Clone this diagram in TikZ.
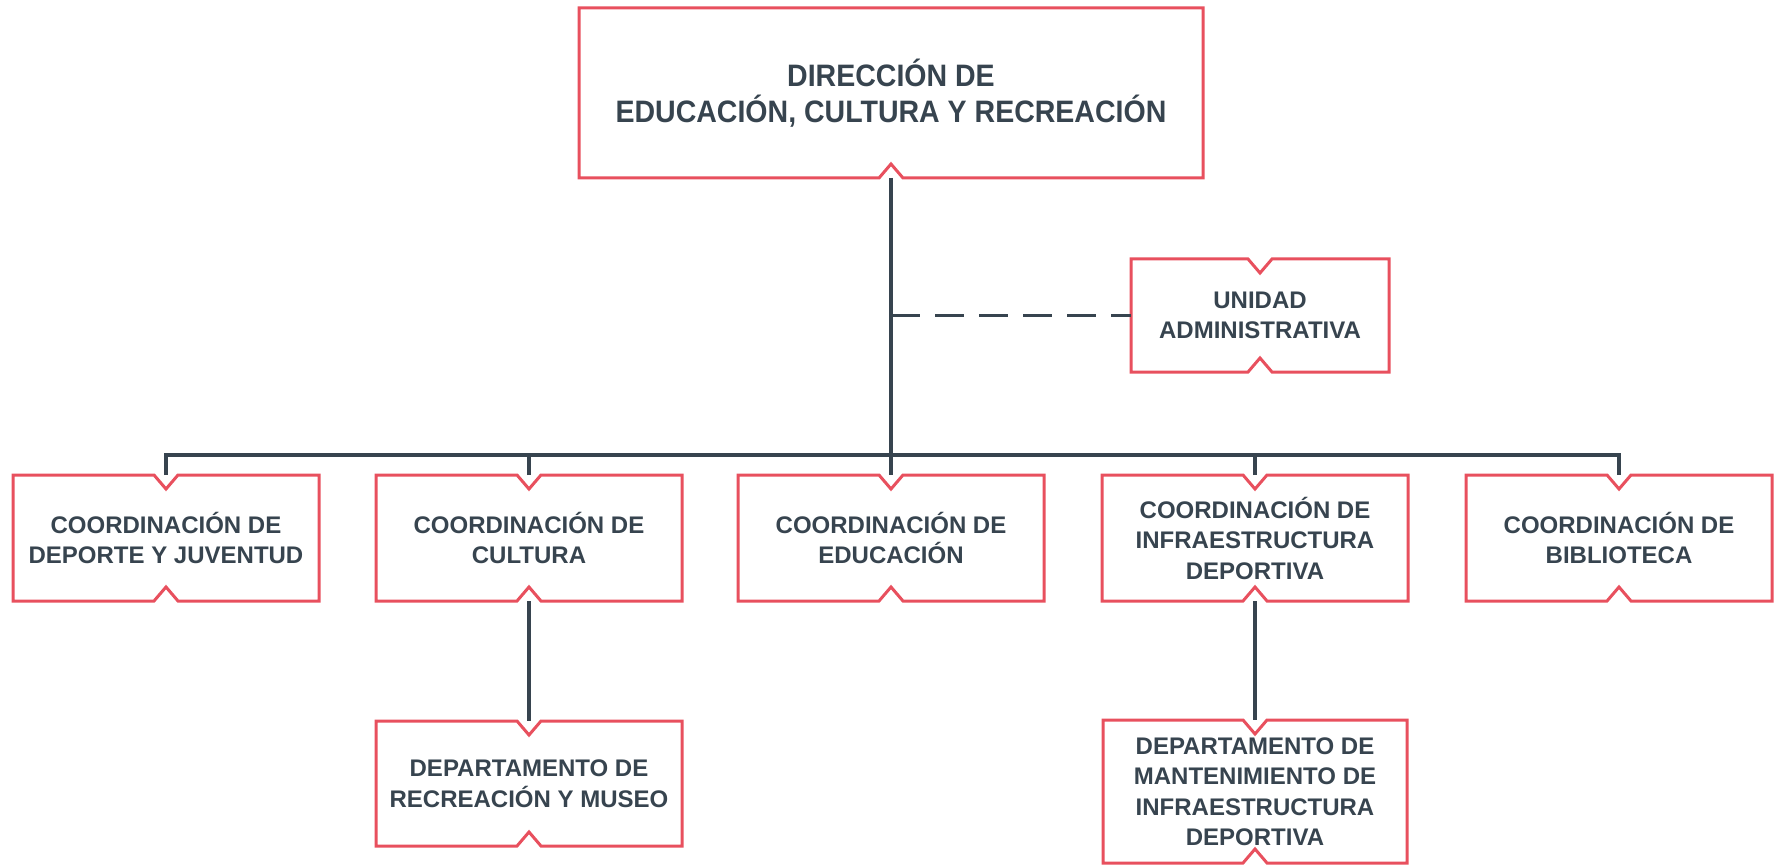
\documentclass[tikz,border=0pt]{standalone}
\usepackage{fontspec}
\setmainfont{Liberation Sans}
\newfontfamily\titlefont{Liberation Sans}[FakeStretch=0.92]
\usepackage{tikz}
\usetikzlibrary{positioning}
\definecolor{boxred}{HTML}{E8505E}
\definecolor{slate}{HTML}{37444F}
\newcommand{\notchbox}[1]{%
  \draw[boxline] (#1.north west) -- ([xshift=-12pt]#1.north) -- ([yshift=-14pt]#1.north)
    -- ([xshift=12pt]#1.north) -- (#1.north east) -- (#1.south east)
    -- ([xshift=12pt]#1.south) -- ([yshift=14pt]#1.south) -- ([xshift=-12pt]#1.south)
    -- (#1.south west) -- cycle;}
\newcommand{\flatbox}[1]{%
  \draw[boxline] (#1.north west) -- (#1.north east) -- (#1.south east)
    -- ([xshift=12pt]#1.south) -- ([yshift=14pt]#1.south) -- ([xshift=-12pt]#1.south)
    -- (#1.south west) -- cycle;}

\begin{document}
\begin{tikzpicture}[x=1pt,y=1pt]
  \tikzset{every node/.style={inner sep=0pt,outer sep=0pt,align=center,text=slate},
    orgbox/.style={minimum width=306pt,minimum height=126pt,
      font=\bfseries\fontsize{24}{30.5}\selectfont},
    boxline/.style={draw=boxred,line width=3pt,line join=miter},
    link/.style={draw=slate,line width=3.5pt},
    dashlink/.style={link,dash pattern=on 29pt off 15pt}}
  \useasboundingbox (0,0) rectangle (1774,-866);
  \node[orgbox,minimum width=624pt,minimum height=170pt,
    font=\titlefont\bfseries\fontsize{31}{36}\selectfont] (dir) at (891,-93)
    {DIRECCIÓN DE\\EDUCACIÓN, CULTURA Y RECREACIÓN};
  \node[orgbox,minimum width=258pt,minimum height=113pt] (uadm) at (1260,-315.5)
    {UNIDAD\\ADMINISTRATIVA};
  \node[orgbox] (cdep) at (166,-538) {COORDINACIÓN DE\\DEPORTE Y JUVENTUD};
  \node[orgbox] (ccul) at (529,-538) {COORDINACIÓN DE\\CULTURA};
  \node[orgbox] (cedu) at (891,-538) {COORDINACIÓN DE\\EDUCACIÓN};
  \node[orgbox] (cinf) at (1255,-538) {COORDINACIÓN DE\\INFRAESTRUCTURA\\DEPORTIVA};
  \node[orgbox] (cbib) at (1619,-538) {COORDINACIÓN DE\\BIBLIOTECA};
  \node[orgbox,minimum height=125pt] (drec) at (529,-783.5) {DEPARTAMENTO DE\\RECREACIÓN Y MUSEO};
  \node[orgbox,minimum width=304pt,minimum height=143pt] (dman) at (1255,-791.5)
    {DEPARTAMENTO DE\\MANTENIMIENTO DE\\INFRAESTRUCTURA\\DEPORTIVA};
  \flatbox{dir}
  \foreach \b in {uadm,cdep,ccul,cedu,cinf,cbib,drec,dman} {\notchbox{\b}}
  \coordinate (bus) at (891,-455);
  \draw[link] (dir.south) -- (cedu.north);
  \draw[dashlink] (uadm.west -| dir.south) -- (uadm.west);
  \draw[link] (cdep.north) |- (bus) -| (cbib.north);
  \draw[link] (ccul.north) -- (ccul.north |- bus);
  \draw[link] (cinf.north) -- (cinf.north |- bus);
  \draw[link] (ccul.south) -- (drec.north);
  \draw[link] (cinf.south) -- (dman.north);
\end{tikzpicture}
\end{document}
